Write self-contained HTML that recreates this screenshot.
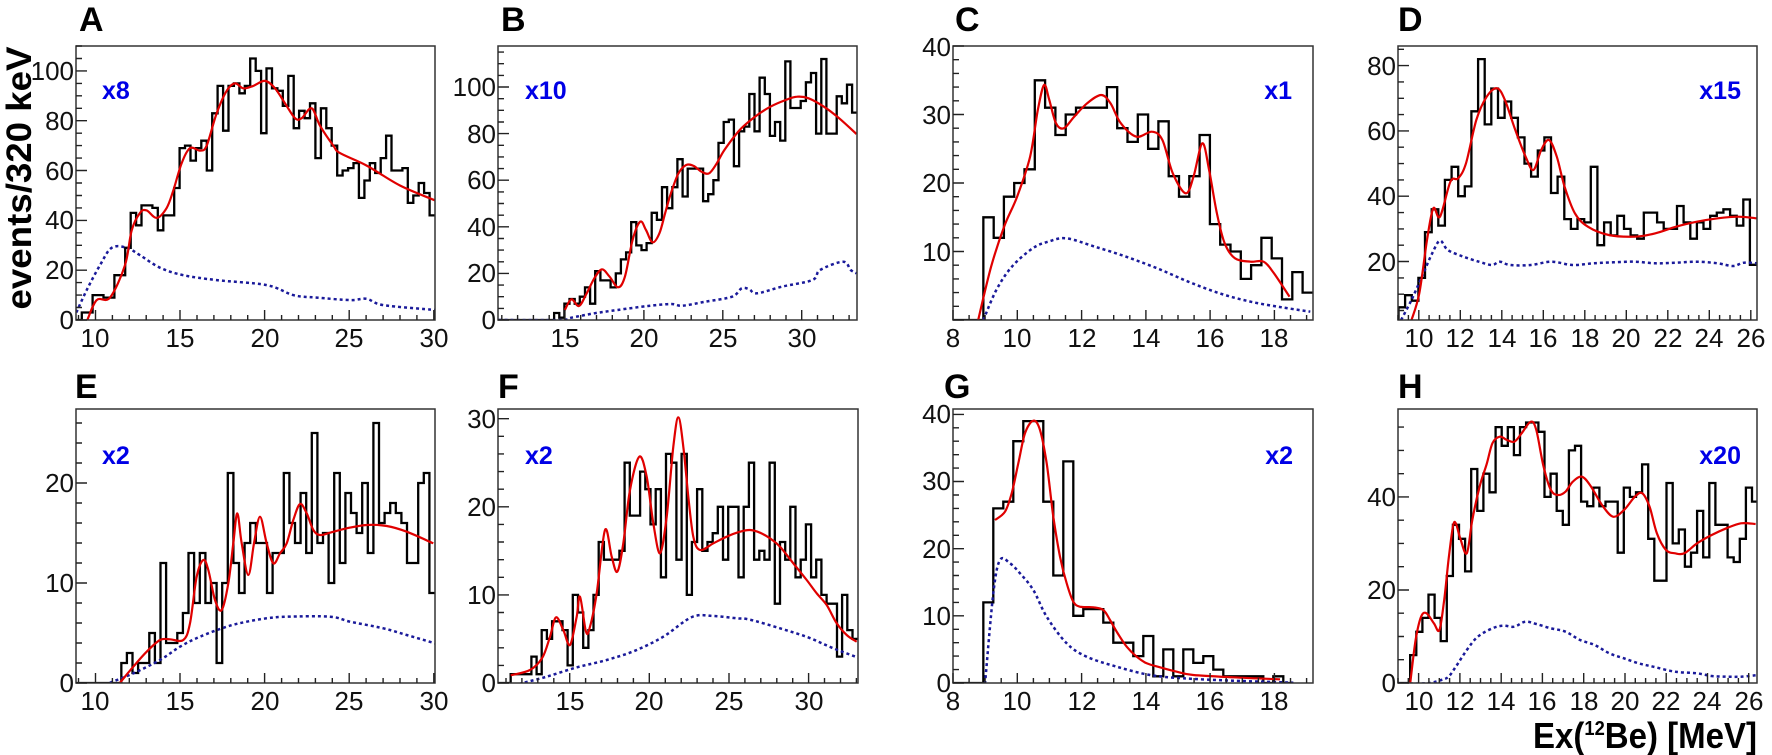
<!DOCTYPE html>
<html><head><meta charset="utf-8">
<style>
html,body{margin:0;padding:0;background:#fff;}
svg{display:block;}
text{font-family:"Liberation Sans",Arial,sans-serif;}
.t{font-size:26px;fill:#111;}
.l{font-size:34px;font-weight:bold;fill:#000;}
.s{font-size:25px;font-weight:bold;fill:#0000e6;}
</style></head>
<body>
<svg id="g" width="1772" height="755" viewBox="0 0 1772 755" xmlns="http://www.w3.org/2000/svg">
<rect width="1772" height="755" fill="#fff"/>
<g id="plots"></g>
<text class="l" x="79" y="31">A</text>
<text class="l" x="501" y="31">B</text>
<text class="l" x="955" y="31">C</text>
<text class="l" x="1398" y="31">D</text>
<text class="l" x="75" y="398">E</text>
<text class="l" x="498" y="398">F</text>
<text class="l" x="944" y="398">G</text>
<text class="l" x="1398" y="398">H</text>
<text class="s" x="102" y="99">x8</text>
<text class="s" x="525" y="99">x10</text>
<text class="s" x="1292" y="99" text-anchor="end">x1</text>
<text class="s" x="1741" y="99" text-anchor="end">x15</text>
<text class="s" x="102" y="464">x2</text>
<text class="s" x="525" y="464">x2</text>
<text class="s" x="1293" y="464" text-anchor="end">x2</text>
<text class="s" x="1741" y="464" text-anchor="end">x20</text>
<text x="0" y="0" transform="translate(31,178) rotate(-90)" text-anchor="middle" style="font-size:35px;font-weight:bold" textLength="263" lengthAdjust="spacingAndGlyphs">events/320 keV</text>
<text x="1757" y="748" text-anchor="end" style="font-size:36px;font-weight:bold" textLength="224" lengthAdjust="spacingAndGlyphs">Ex(<tspan dy="-13" style="font-size:20px">12</tspan><tspan dy="13">Be) [MeV]</tspan></text>
<g class="t" text-anchor="middle">
<text x="95" y="347">10</text><text x="180" y="347">15</text><text x="265" y="347">20</text><text x="349" y="347">25</text><text x="434" y="347">30</text>
<text x="565" y="347">15</text><text x="644" y="347">20</text><text x="723" y="347">25</text><text x="802" y="347">30</text>
<text x="953" y="347">8</text><text x="1017" y="347">10</text><text x="1082" y="347">12</text><text x="1146" y="347">14</text><text x="1210" y="347">16</text><text x="1274" y="347">18</text>
<text x="1419" y="347">10</text><text x="1460" y="347">12</text><text x="1502" y="347">14</text><text x="1543" y="347">16</text><text x="1585" y="347">18</text><text x="1626" y="347">20</text><text x="1668" y="347">22</text><text x="1709" y="347">24</text><text x="1751" y="347">26</text>
<text x="95" y="710">10</text><text x="180" y="710">15</text><text x="265" y="710">20</text><text x="349" y="710">25</text><text x="434" y="710">30</text>
<text x="570" y="710">15</text><text x="649" y="710">20</text><text x="729" y="710">25</text><text x="809" y="710">30</text>
<text x="953" y="710">8</text><text x="1017" y="710">10</text><text x="1082" y="710">12</text><text x="1146" y="710">14</text><text x="1210" y="710">16</text><text x="1274" y="710">18</text>
<text x="1419" y="710">10</text><text x="1460" y="710">12</text><text x="1501" y="710">14</text><text x="1542" y="710">16</text><text x="1584" y="710">18</text><text x="1625" y="710">20</text><text x="1666" y="710">22</text><text x="1707" y="710">24</text><text x="1749" y="710">26</text>
</g>
<g class="t" text-anchor="end">
<text x="74" y="329">0</text><text x="74" y="279">20</text><text x="74" y="229">40</text><text x="74" y="180">60</text><text x="74" y="130">80</text><text x="74" y="80">100</text>
<text x="496" y="329">0</text><text x="496" y="282">20</text><text x="496" y="236">40</text><text x="496" y="189">60</text><text x="496" y="143">80</text><text x="496" y="96">100</text>
<text x="951" y="261">10</text><text x="951" y="192">20</text><text x="951" y="124">30</text><text x="951" y="56">40</text>
<text x="1396" y="271">20</text><text x="1396" y="205">40</text><text x="1396" y="140">60</text><text x="1396" y="75">80</text>
<text x="74" y="692">0</text><text x="74" y="592">10</text><text x="74" y="492">20</text>
<text x="496" y="692">0</text><text x="496" y="604">10</text><text x="496" y="516">20</text><text x="496" y="428">30</text>
<text x="951" y="692">0</text><text x="951" y="625">10</text><text x="951" y="558">20</text><text x="951" y="490">30</text><text x="951" y="423">40</text>
<text x="1396" y="692">0</text><text x="1396" y="599">20</text><text x="1396" y="506">40</text>
</g>
</svg>
<script>
(function(){
var NS="http://www.w3.org/2000/svg",root=document.getElementById("plots");
function el(n,a,p){var e=document.createElementNS(NS,n);for(var k in a)e.setAttribute(k,a[k]);(p||root).appendChild(e);return e;}
var Z={z1:[0,3,0,3],z3:[380,2.613,0,3],z4:[960,1.927,0,3],z8:[0,3,330,3],z9:[480,3,330,3],z10:[940,3,330,3],z2:[1200,2.736,300,3]};
var P=[
{f:[76,435,46,320],x:[8.85,30.07],y:[0,110],xt:[5,1],yt:[20,5],z:"z1",
 h:{s:229,e:1305,v:[0,3,3,10,10,9,9,18,18,29,43,38,46,46,45,36,42,42,53,69,70,64,69,72,60,83,94,76,94,95,91,94,105,100,75,101,93,92,86,98,77,84,81,87,65,85,77,70,58,60,61,63,49,56,63,59,65,74,60,60,61,47,50,55,51,42]},
 fitv:[[262,0],[290,8],[330,9],[375,22],[395,36],[420,43],[440,44],[470,41],[500,45],[520,52],[545,63],[570,69],[600,68],[620,70],[650,83],[680,92],[705,95],[730,93],[760,94],[795,96],[825,93],[855,87],[885,81],[905,81],[935,85],[960,78],[1000,70],[1020,67],[1100,62],[1200,54],[1305,48]],
 bgv:[[229,3],[260,12],[300,22],[335,29],[380,29],[420,26],[480,21],[550,18],[650,16],[800,14],[880,10],[950,9],[1050,8],[1100,8.5],[1150,6],[1305,4]]},
{f:[498,857,46,320],x:[10.76,33.5],y:[0,117.6],xt:[5,1],yt:[20,5],z:"z3",
 h:{s:455,e:1247,v:[3,1,7,9,7,10,14,7,21,17,17,14,20,26,29,42,32,30,33,46,43,57,48,57,69,53,65,65,65,51,54,60,76,85,86,66,81,83,97,81,104,97,79,85,77,111,91,91,94,102,106,80,112,80,80,96,93,101,89]},
 fit:[[483,930],[500,898],[520,918],[540,880],[560,835],[580,808],[600,830],[622,862],[640,830],[660,720],[680,665],[695,690],[712,727],[730,700],[745,640],[760,580],[780,520],[800,495],[820,498],[840,515],[860,520],[880,490],[900,450],[940,390],[980,350],[1020,320],[1060,300],[1090,290],[1120,295],[1160,320],[1200,355],[1245,402]],
 bg:[[310,960],[470,960],[500,953],[560,940],[620,930],[700,918],[760,912],[790,917],[850,905],[920,890],[945,865],[965,868],[985,880],[1050,860],[1130,840],[1150,810],[1210,785],[1230,810],[1245,820]]},
{f:[953,1313,46,320],x:[8,19.2],y:[0,40],xt:[2,0.5],yt:[10,2],z:"z4",
 h:{s:45,e:680,v:[15,12,18,20,22,35,31,27,30,31,31,31,34,28,26,30,25,29,21,18,21,27,14,11,10,6,8,12,9,3,7,4]},
 fit:[[35,960],[60,800],[85,680],[110,590],[135,470],[150,330],[162,255],[172,300],[185,370],[200,385],[220,350],[245,310],[272,285],[290,310],[310,370],[340,410],[370,395],[390,420],[410,520],[435,580],[450,530],[467,430],[480,510],[495,640],[510,730],[530,775],[560,785],[585,785],[605,820],[635,890]],
 bg:[[45,960],[70,870],[100,800],[140,745],[170,725],[205,715],[260,740],[320,770],[380,805],[440,845],[500,880],[560,905],[620,922],[675,935]]},
{f:[1398,1757,46,320],x:[9,26.3],y:[2.1,86],xt:[2,0.5],yt:[20,5],z:"z4",
 h:{s:845,e:1535,v:[6,9.7,8,15,29,36,31,45,49,40,43,66,82,62,73,64,69,64,58,50,46,54,58,41,46,33,30,33,32,49,25,32,28,34,30,28,27,35,35,32,30,30,37,32,27,32,30,34,35,36,34,31,39,19]},
 fit:[[870,960],[885,880],[900,720],[912,625],[925,650],[945,545],[960,535],[975,490],[995,360],[1015,290],[1035,265],[1050,300],[1070,390],[1090,470],[1105,510],[1120,450],[1135,420],[1150,470],[1165,560],[1185,640],[1210,680],[1250,705],[1300,710],[1340,700],[1380,680],[1420,665],[1460,655],[1500,650],[1535,655]],
 bg:[[850,960],[870,900],[890,830],[910,760],[925,722],[940,750],[970,770],[1000,785],[1025,795],[1040,785],[1060,795],[1100,795],[1140,785],[1180,795],[1220,790],[1260,787],[1300,785],[1340,790],[1380,788],[1420,785],[1460,790],[1490,798],[1510,788],[1535,790]]},
{f:[76,435,409,683],x:[8.85,30.07],y:[0,27.4],xt:[5,1],yt:[10,2],z:"z8",
 h:{s:364,e:1305,v:[2,3,1,2,2,5,2,12,4,4,5,7,13,8,13,8,10,2,10,21,12,9,14,16,14,14,9,13,13,21,16,14,19,13,25,14,15,10,21,12,19,17,15,20,13,26,16,17,18,17,16,12,12,20,21,9]},
 fit:[[360,1058],[400,1010],[440,965],[480,930],[510,928],[550,930],[570,880],[590,740],[610,690],[625,720],[645,810],[665,840],[685,760],[700,640],[712,550],[725,640],[745,735],[762,640],[780,560],[800,640],[820,700],[840,670],[860,640],[880,570],[900,522],[920,550],[940,600],[960,615],[990,608],[1040,595],[1100,585],[1160,588],[1220,605],[1300,640]],
 bg:[[330,1058],[400,1030],[480,990],[540,950],[600,920],[680,890],[740,875],[800,865],[860,860],[990,860],[1050,875],[1150,895],[1220,915],[1305,940]]},
{f:[498,858,409,683],x:[10.5,33.1],y:[0,31.1],xt:[5,1],yt:[10,2],z:"z9",
 h:{s:92,e:1133,v:[1,1,1,1,3,1,6,5,7,7,6,2,10,8,4,6,10,16,14,14,14,15,25,19,19,24,22,18,22,12,26,25,14,26,10,16,22,15,16,17,20,14,20,20,12,20,25,14,15,14,25,9,16,14,20,12,14,18,12,14,10,9,9,3,10,6,5]},
 fit:[[92,1036],[150,1020],[187,983],[210,920],[228,862],[250,900],[270,945],[290,860],[300,800],[318,905],[330,890],[350,790],[375,600],[395,680],[412,725],[430,640],[450,480],[478,380],[500,440],[520,580],[540,670],[560,560],[580,350],[595,262],[610,350],[625,500],[640,620],[660,660],[700,640],[740,620],[780,605],[810,600],[840,608],[870,625],[900,650],[940,700],[980,750],[1010,790],[1040,825],[1070,880],[1100,915],[1130,935]],
 bg:[[117,1062],[200,1040],[291,1012],[380,990],[465,962],[550,920],[636,861],[700,858],[770,865],[810,869],[900,895],[984,922],[1060,955],[1140,985]]},
{f:[953,1313,409,683],x:[8,19.2],y:[0,40.8],xt:[2,0.5],yt:[10,2],z:"z10",
 h:{s:130,e:1060,v:[12,26,27,36,39,39,27,16,33,10,11,11,9,6,6,4,7,1,5,1,5,3,4,2,1,1,1,1,0,1,0]},
 fit:[[165,570],[195,545],[215,490],[235,400],[255,310],[280,272],[300,300],[320,400],[340,560],[360,680],[380,760],[400,815],[420,830],[460,832],[490,840],[510,870],[530,905],[560,950],[590,980],[620,1000],[660,1012],[710,1025],[760,1035],[880,1042],[1020,1048]],
 bg:[[135,1062],[160,790],[180,690],[210,700],[240,730],[280,780],[320,860],[380,940],[440,980],[530,1010],[630,1035],[730,1045],[880,1052],[1060,1058]]},
{f:[1398,1757,409,683],x:[9,26.4],y:[0,58.9],xt:[2,0.5],yt:[20,5],z:"z2",
 h:{s:575,e:1527,v:[6,11,14,19,14,9,23,34,31,24,46,37,45,41,55,51,55,49,55,56,56,54,40,45,37,34,50,51,39,38,42,38,39,39,28,42,40,41,47,31,22,22,43,30,33,25,28,37,27,43,34,34,27,26,31,42,39]},
 fit:[[575,1150],[590,1020],[605,950],[620,940],[640,970],[655,990],[668,900],[680,780],[692,680],[700,670],[712,715],[730,760],[745,660],[765,560],[785,490],[800,430],[820,410],[840,420],[860,425],[880,400],[905,365],[920,390],[940,500],[960,570],[980,585],[1000,575],[1020,545],[1045,530],[1070,560],[1100,615],[1130,650],[1160,630],[1190,590],[1210,580],[1230,620],[1250,700],[1275,750],[1300,760],[1325,760],[1360,730],[1400,705],[1440,685],[1480,670],[1520,672]],
 bg:[[541,1150],[620,1150],[660,1140],[680,1130],[700,1100],[730,1050],[760,1010],[800,985],[830,977],[860,980],[890,965],[920,972],[960,985],[1000,995],[1040,1020],[1080,1035],[1120,1060],[1160,1075],[1200,1090],[1240,1100],[1300,1115],[1360,1120],[1400,1128],[1440,1130],[1480,1130],[1527,1125]]}
];
var defs=el("defs",{});
function smooth(pts){
 var s="M"+pts[0][0].toFixed(1)+","+pts[0][1].toFixed(1);
 for(var i=0;i<pts.length-1;i++){
  var p0=pts[i-1]||pts[i],p1=pts[i],p2=pts[i+1],p3=pts[i+2]||p2;
  var c1x=p1[0]+(p2[0]-p0[0])/6,c1y=p1[1]+(p2[1]-p0[1])/6,c2x=p2[0]-(p3[0]-p1[0])/6,c2y=p2[1]-(p3[1]-p1[1])/6;
  s+="C"+c1x.toFixed(1)+","+c1y.toFixed(1)+" "+c2x.toFixed(1)+","+c2y.toFixed(1)+" "+p2[0].toFixed(1)+","+p2[1].toFixed(1);
 }
 return s;
}
P.forEach(function(p,i){
 var f=p.f,z=Z[p.z];
 function X(zx){return z[0]+zx/z[1];}
 function YZ(zy){return z[2]+zy/z[3];}
 function YV(v){return f[3]-(v-p.y[0])/(p.y[1]-p.y[0])*(f[3]-f[2]);}
 function XV(v){return f[0]+(v-p.x[0])/(p.x[1]-p.x[0])*(f[1]-f[0]);}
 var cp=el("clipPath",{id:"c"+i},defs);el("rect",{x:f[0],y:f[2],width:f[1]-f[0],height:f[3]-f[2]},cp);
 var g=el("g",{"clip-path":"url(#c"+i+")"});
 var h=p.h,n=h.v.length,w=(X(h.e)-X(h.s))/n,x=X(h.s);
 var d="M"+f[0]+","+YV(0)+"H"+x;
 for(var k=0;k<n;k++){d+="V"+YV(h.v[k]).toFixed(1)+"H"+(x+(k+1)*w).toFixed(1);}
 el("path",{d:d,fill:"none",stroke:"#000","stroke-width":2.3},g);
 function pts(a,isV){return a.map(function(q){return [X(q[0]),isV?YV(q[1]):YZ(q[1])];});}
 el("path",{d:smooth(p.bgv?pts(p.bgv,1):pts(p.bg,0)),fill:"none",stroke:"#1a1a9a","stroke-width":2.5,"stroke-dasharray":"3,3"},g);
 el("path",{d:smooth(p.fitv?pts(p.fitv,1):pts(p.fit,0)),fill:"none",stroke:"#e00000","stroke-width":2.2,"stroke-linejoin":"round"},g);
 el("rect",{x:f[0],y:f[2],width:f[1]-f[0],height:f[3]-f[2],fill:"none",stroke:"#333","stroke-width":1.5});
 var t="";
 var a0=Math.ceil(p.x[0]/p.xt[1]-1e-6);
 for(var v=a0*p.xt[1];v<=p.x[1]+1e-6;v+=p.xt[1]){var xx=XV(v),maj=Math.abs(v/p.xt[0]-Math.round(v/p.xt[0]))<1e-4;t+="M"+xx.toFixed(1)+","+f[3]+"v"+(maj?-10:-5);}
 var b0=Math.ceil(p.y[0]/p.yt[1]-1e-6);
 for(var u=b0*p.yt[1];u<=p.y[1]+1e-6;u+=p.yt[1]){var yy=YV(u),mj=Math.abs(u/p.yt[0]-Math.round(u/p.yt[0]))<1e-4;t+="M"+f[0]+","+yy.toFixed(1)+"h"+(mj?11:6);}
 el("path",{d:t,stroke:"#222","stroke-width":1.4,fill:"none"});
});
})();
</script>
</body></html>
